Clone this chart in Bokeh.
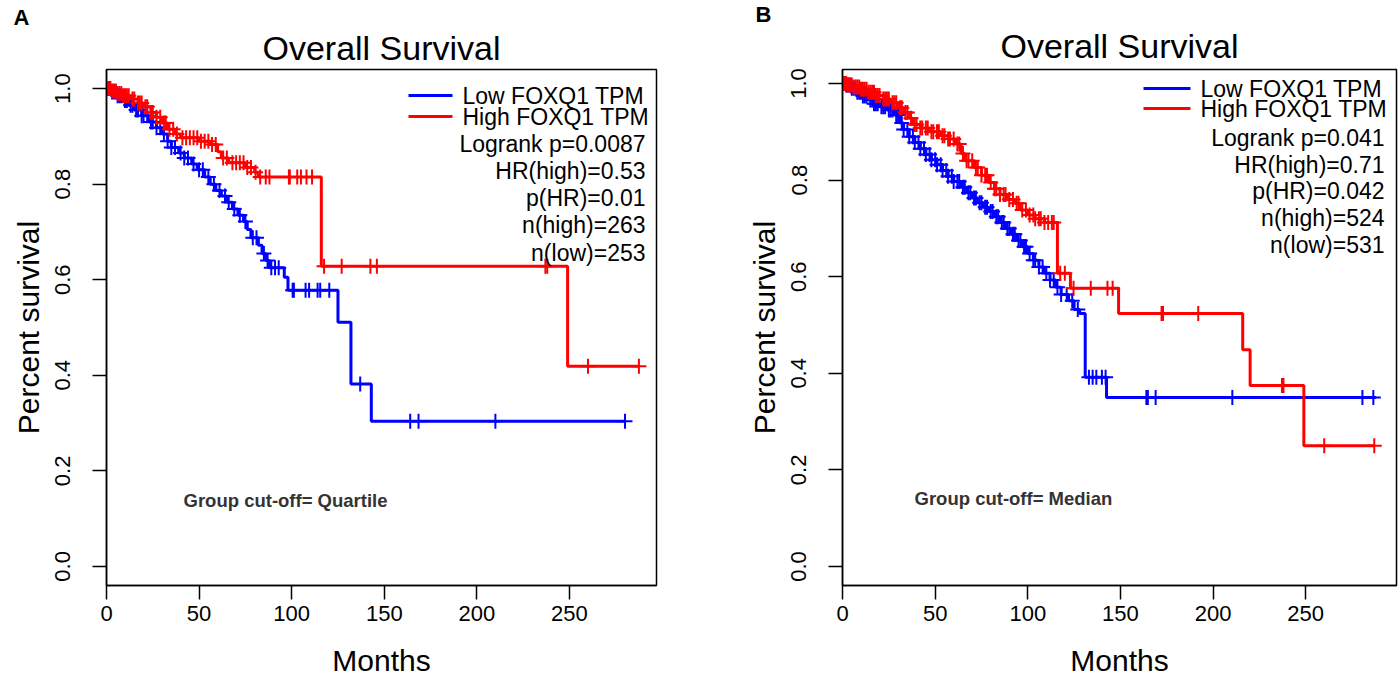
import numpy as np
from bokeh.plotting import figure
from bokeh.layouts import row
from bokeh.models import Range1d, FixedTicker, Title, PrintfTickFormatter
from bokeh.core.properties import value
from bokeh.embed import file_html
from bokeh.resources import INLINE

# ---------------- data: panel A (cut-off = quartile) ----------------
a_low_t = [0, 3, 6, 9, 12, 15, 19, 23, 27, 30, 33, 35, 39, 42, 46, 49, 53, 56, 59, 62, 65, 68,
           71, 74, 76, 78, 82, 84, 86, 88, 96, 98, 125, 132, 143, 280]
a_low_s = [1.0, 0.993, 0.985, 0.975, 0.965, 0.955, 0.943, 0.93, 0.918, 0.905, 0.89, 0.877, 0.865,
           0.855, 0.842, 0.83, 0.815, 0.8, 0.787, 0.775, 0.762, 0.748, 0.735, 0.722, 0.705, 0.688,
           0.672, 0.655, 0.64, 0.625, 0.605, 0.578, 0.511, 0.382, 0.304, 0.304]
a_low_cens = [1, 2, 3, 4, 5, 6, 7, 8, 10, 11, 13, 14, 16, 17, 19, 20, 22, 24, 25, 27, 29, 31, 33,
              35, 37, 40, 42, 44, 47, 50, 52, 55, 58, 61, 64, 66, 69, 72, 75, 79, 81, 85, 87, 89,
              91, 93, 100.5, 101.2, 107.5, 109.4, 114, 115.4, 120.3, 137, 164, 168.5, 210, 280]

a_high_t = [0, 3, 6, 9, 13, 17, 20, 24, 27, 30, 33, 37, 40, 50, 56, 60, 62, 66, 75, 80, 82,
            116, 249, 287.5]
a_high_s = [1.0, 0.995, 0.99, 0.985, 0.978, 0.97, 0.962, 0.95, 0.94, 0.928, 0.915, 0.905, 0.897,
            0.89, 0.883, 0.868, 0.855, 0.845, 0.835, 0.825, 0.815, 0.628, 0.419, 0.419]
a_high_cens = [1, 2, 3, 4, 5, 6, 7, 8, 9, 10, 11, 12, 14, 15, 17, 18, 19, 21, 22, 24, 25, 27, 29,
               31, 32, 34, 36, 38, 41, 43, 45, 47, 49, 51, 53, 55, 57, 59, 63, 65, 68, 70, 72, 74,
               76, 78, 80.5, 83, 86, 88, 98.5, 99, 103, 105, 108, 111, 117.5, 127, 142.5, 146,
               237, 238, 260, 287.5]

a_stats = ["Logrank p=0.0087", "HR(high)=0.53", "p(HR)=0.01", "n(high)=263", "n(low)=253"]
a_cutoff = "Group cut-off= Quartile"

# ---------------- data: panel B (cut-off = median) ----------------
b_low_t = [0, 2, 5, 8, 11, 14, 17, 20, 24, 28, 31, 33, 36, 39, 42, 45, 48, 51, 54, 57, 60, 64,
           67, 70, 73, 76, 79, 82, 85, 88, 91, 94, 97, 100, 103, 106, 109, 112, 115, 118, 122,
           125, 128, 131, 142.5, 288]
b_low_s = [1.0, 0.997, 0.99, 0.982, 0.974, 0.966, 0.958, 0.952, 0.945, 0.935, 0.918, 0.905, 0.89,
           0.878, 0.865, 0.853, 0.842, 0.832, 0.82, 0.808, 0.797, 0.785, 0.774, 0.763, 0.753,
           0.744, 0.735, 0.724, 0.712, 0.7, 0.688, 0.675, 0.662, 0.648, 0.634, 0.62, 0.607,
           0.593, 0.578, 0.563, 0.55, 0.532, 0.524, 0.392, 0.35, 0.35]
b_low_cens = [1, 2, 3, 4, 5, 6, 7, 8, 9, 10, 11, 12, 13, 15, 16, 17, 18, 19, 21, 22, 23, 25, 26,
              27, 29, 30, 32, 33, 35, 36, 38, 39, 41, 42, 44, 45, 47, 48, 50, 51, 53, 54, 56, 57,
              59, 60, 62, 63, 65, 66, 68, 69, 71, 72, 74, 75, 77, 78, 80, 81, 83, 84, 86, 87, 89,
              90, 92, 93, 95, 96, 98, 99, 101, 103, 104, 106, 108, 110, 112, 114, 116, 118, 121,
              124, 127, 133, 135, 137, 140, 142, 164, 164.8, 169, 210.4, 280.6, 286.5]

b_high_t = [0, 3, 6, 10, 14, 18, 22, 26, 30, 33, 36, 38, 42, 47, 53, 57, 61, 64, 66, 71, 75, 79,
            82, 85, 89, 93, 96, 100, 104, 109, 116, 123, 149, 216, 220, 249, 287]
b_high_s = [1.0, 0.997, 0.993, 0.988, 0.982, 0.975, 0.968, 0.96, 0.95, 0.94, 0.928, 0.915, 0.908,
            0.9, 0.892, 0.885, 0.875, 0.855, 0.84, 0.826, 0.81, 0.795, 0.782, 0.77, 0.76, 0.752,
            0.738, 0.728, 0.72, 0.712, 0.607, 0.576, 0.524, 0.449, 0.375, 0.25, 0.25]
b_high_cens = [1, 2, 3, 4, 5, 6, 7, 8, 9, 10, 11, 12, 13, 14, 15, 16, 17, 18, 19, 20, 22, 23, 24,
               25, 27, 28, 29, 31, 32, 34, 35, 37, 39, 40, 42, 43, 45, 46, 48, 49, 51, 52, 54, 55,
               57, 58, 60, 62, 63, 65, 67, 68, 70, 72, 73, 75, 77, 78, 80, 82, 83, 85, 87, 88, 90,
               92, 94, 95, 97, 99, 101, 103, 104, 106, 107, 109, 111, 113, 114, 117.5, 120, 124.7,
               134, 143, 145.8, 172.2, 173, 192, 237.2, 238, 260, 287]

b_stats = ["Logrank p=0.041", "HR(high)=0.71", "p(HR)=0.042", "n(high)=524", "n(low)=531"]
b_cutoff = "Group cut-off= Median"

legend_labels = ["Low FOXQ1 TPM", "High FOXQ1 TPM"]
x_ticks = [0, 50, 100, 150, 200, 250]
y_ticks = [0.0, 0.2, 0.4, 0.6, 0.8, 1.0]

BLUE = "#0000FF"
RED = "#FF0000"
SANS = "Liberation Sans"


def surv_at(times, surv, t):
    idx = np.searchsorted(np.asarray(times, dtype=float), np.asarray(t, dtype=float), side="right") - 1
    return np.asarray(surv)[idx]


def make_panel(geom, low, high, stats, cutoff, letter, title_gap, letter_gap):
    W, H, L, R, T, B, xmax, yr, lay = geom
    fw, fh = W - L - R, H - T - B
    xr = (0, xmax)

    def dx(px):
        return xr[0] + (px - L) / fw * (xr[1] - xr[0])

    def dy(py):
        return yr[1] - (py - T) / fh * (yr[1] - yr[0])

    p = figure(width=W, height=H, output_backend="svg", toolbar_location=None,
               x_range=Range1d(*xr), y_range=Range1d(*yr),
               min_border_left=L, min_border_right=R, min_border_top=T, min_border_bottom=B)
    p.title = None
    main_title = Title(text="Overall Survival", align="center", text_font=SANS,
                       text_font_size="34px", text_font_style="normal", text_color="black",
                       standoff=title_gap)
    p.add_layout(main_title, "above")
    letter_title = Title(text=letter[0], align="left", offset=letter[1], text_font=SANS,
                         text_font_size="22px", text_font_style="bold", text_color="black",
                         standoff=letter_gap)
    p.add_layout(letter_title, "above")

    p.xgrid.visible = False
    p.ygrid.visible = False
    p.outline_line_color = "black"
    p.outline_line_width = 1.5
    p.outline_line_alpha = 1.0

    for ax in (p.xaxis[0], p.yaxis[0]):
        ax.axis_line_width = 1.5
        ax.major_tick_line_width = 1.5
        ax.major_tick_out = 14
        ax.major_tick_in = 0
        ax.minor_tick_line_color = None
        ax.major_label_text_font = SANS
        ax.major_label_text_font_size = "22px"
        ax.major_label_text_color = "black"
        ax.axis_label_text_font = SANS
        ax.axis_label_text_font_size = "30px"
        ax.axis_label_text_font_style = "normal"
        ax.axis_label_text_color = "black"
    p.xaxis.ticker = FixedTicker(ticks=x_ticks)
    p.yaxis.ticker = FixedTicker(ticks=y_ticks)
    p.yaxis.formatter = PrintfTickFormatter(format="%.1f")
    p.yaxis.major_label_orientation = "vertical"
    p.xaxis.axis_label = "Months"
    p.yaxis.axis_label = "Percent survival"
    p.xaxis.major_label_standoff = 6
    p.yaxis.major_label_standoff = 22
    p.xaxis.axis_label_standoff = 20
    p.yaxis.axis_label_standoff = 8

    for (t, s, cens), col in ((low, BLUE), (high, RED)):
        p.step(t, s, mode="after", line_color=col, line_width=3)
        p.scatter(cens, surv_at(t, s, cens), marker="cross", size=15,
                  line_color=col, line_width=2)

    # legend (R style)
    (lx0, lx1, ltx, rows_leg, rx, rows_stat, cut_px) = lay
    for yy, col, lab in zip(rows_leg, (BLUE, RED), legend_labels):
        p.segment(x0=[dx(lx0)], y0=[dy(yy)], x1=[dx(lx1)], y1=[dy(yy)],
                  line_color=col, line_width=3)
        p.text(x=[dx(ltx)], y=[dy(yy)], text=[lab], text_font=value(SANS),
               text_font_size="23px", text_baseline="middle", text_align="left",
               text_color="black")
    p.text(x=[dx(rx)] * len(stats), y=[dy(v) for v in rows_stat], text=stats,
           text_font=value(SANS), text_font_size="23px", text_baseline="middle",
           text_align="right", text_color="black")
    p.text(x=[dx(cut_px[0])], y=[dy(cut_px[1])], text=[cutoff], text_font=value(SANS),
           text_font_size="18.5px", text_font_style="bold", text_baseline="middle",
           text_align="left", text_color="#333333")
    return p


# frames of both panels share the same top edge inside a row layout
geom_a = (700, 681, 106, 44, 69, 96, 297, (-0.04, 1.04),
          (408, 452, 462, [95, 116], 645, [143, 170, 197, 224, 252], (183, 500)))
geom_b = (700, 681, 142, 4, 69, 96, 299, (-0.0393, 1.029),
          (443, 490, 500, [88, 108], 684, [137, 164, 190, 217, 244], (214, 498)))

pa = make_panel(geom_a, (a_low_t, a_low_s, a_low_cens), (a_high_t, a_high_s, a_high_cens),
                a_stats, a_cutoff, ("A", -93), 5, -10)
pb = make_panel(geom_b, (b_low_t, b_low_s, b_low_cens), (b_high_t, b_high_s, b_high_cens),
                b_stats, b_cutoff, ("B", -87), 10, -14)

layout = row(pa, pb)
open("out.html", "w").write(file_html(layout, INLINE))
